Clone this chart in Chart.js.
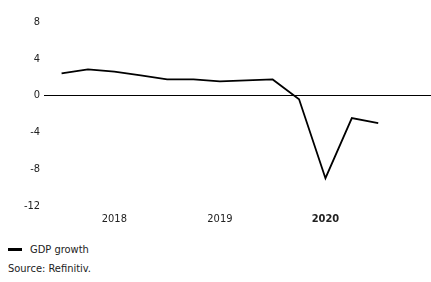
<!DOCTYPE html>
<html>
<head>
<meta charset="utf-8">
<script src="https://cdn.jsdelivr.net/npm/chart.js@4"></script>
<style>
html,body{margin:0;padding:0;background:#fff;}
#wrap{position:relative;width:431px;height:282px;font-family:'DejaVu Sans Condensed','Liberation Sans Narrow',sans-serif;color:#222;font-size:11px;}
#chart{position:absolute;left:0;top:0;}
#legend{position:absolute;left:8px;top:242px;line-height:16px;}
#legend .sw{display:inline-block;width:14px;height:3px;background:#000;vertical-align:middle;margin-right:8px;position:relative;top:-1px;}
#source{position:absolute;left:8px;top:262px;line-height:14px;}
</style>
</head>
<body>
<div id="wrap">
<canvas id="chart" width="431" height="240"></canvas>
<div id="legend"><span class="sw"></span><span id="legendText"></span></div>
<div id="source"></div>
</div>
<script>
// quarterly GDP growth, % y/y
const quarters = ["Q4 2017","Q1 2018","Q2 2018","Q3 2018","Q4 2018","Q1 2019","Q2 2019","Q3 2019","Q4 2019","Q1 2020","Q2 2020","Q3 2020","Q4 2020"];
const gdpGrowth = [2.4, 2.85, 2.6, 2.2, 1.75, 1.75, 1.55, 1.65, 1.75, -0.4, -9.0, -2.45, -3.0];

const yearTickIndex = [2, 6, 10];
const yearTickLabels = ["2018", "2019", "2020"];
const yTicks = [8, 4, 0, -4, -8, -12];

const seriesName = "GDP growth";
const sourceText = "Source: Refinitiv.";

const FONT = "'DejaVu Sans Condensed', 'Liberation Sans Narrow', sans-serif";

let chart;

function initChart(){

document.getElementById("legendText").innerText = seriesName;
document.getElementById("source").innerText = sourceText;

const ctx = document.getElementById("chart");

chart = new Chart(ctx,{
type:"line",
data:{
datasets:[{
label:seriesName,
data: gdpGrowth.map((v,i)=>({x:i, y:v, q:quarters[i]})),
borderColor:"#000",
borderWidth:1.8,
pointRadius:0,
tension:0
}]
},
options:{
responsive:false,
animation:false,
layout:{padding:{top:22, left:20, right:0, bottom:7}},
scales:{
x:{
type:"linear",
min:-0.66,
max:14,
grid:{display:false, drawTicks:false},
border:{display:false},
afterBuildTicks:(axis)=>{ axis.ticks = yearTickIndex.map(v=>({value:v})); },
ticks:{
autoSkip:false,
maxRotation:0,
padding:7,
color:"#222",
font:(c)=>({family:FONT, size:11, weight: c.tick && c.tick.value===10 ? "bold" : "normal"}),
callback:(v)=>{ const k = yearTickIndex.indexOf(v); return k>=0 ? yearTickLabels[k] : ""; }
}
},
y:{
min:-12,
max:8,
afterBuildTicks:(axis)=>{ axis.ticks = yTicks.map(v=>({value:v})); },
grid:{
drawTicks:false,
color:(c)=> c.tick && c.tick.value===0 ? "#000" : "rgba(0,0,0,0)",
lineWidth:1
},
border:{display:false},
ticks:{
padding:4,
color:"#222",
font:{family:FONT, size:11}
}
}
},
plugins:{
legend:{display:false},
tooltip:{enabled:false}
}
}
});

}

window.onload = initChart;
</script>
</body>
</html>
